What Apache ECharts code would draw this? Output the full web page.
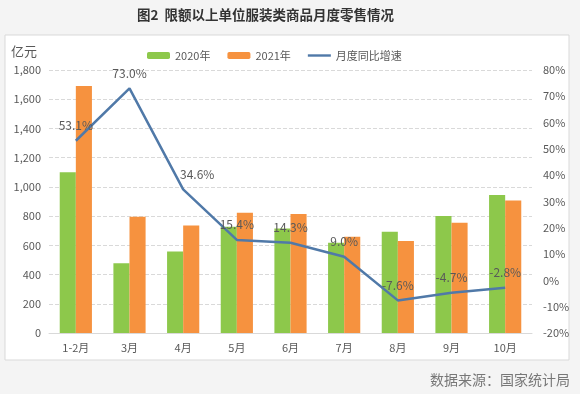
<!DOCTYPE html>
<html><head><meta charset="utf-8">
<script src="https://cdn.jsdelivr.net/npm/echarts@6/dist/echarts.min.js"></script>
<style>html,body{margin:0;padding:0;background:#f4f4f4;}#c{width:580px;height:394px;}</style>
</head><body><div id="c"></div>
<script>
const categories = ['1-2月','3月','4月','5月','6月','7月','8月','9月','10月'];
const sales2020 = [1100, 477, 557, 727, 716, 618, 693, 801, 945];
const sales2021 = [1690, 796, 735, 823, 814, 659, 630, 755, 906];
const growth = [53.1, 73.0, 34.6, 15.4, 14.3, 9.0, -7.6, -4.7, -2.8];
const titleText = '图2  限额以上单位服装类商品月度零售情况';
const sourceText = '数据来源：国家统计局';

const FONT = '"Noto Sans CJK SC", "Noto Sans", sans-serif';
const chart = echarts.init(document.getElementById('c'), null, {renderer:'canvas'});
const lineData = growth.map((v, i) => i === 2 ? {value: v, label: {offset: [14, 0]}} : v);
chart.setOption({
  backgroundColor: '#f4f4f4',
  textStyle: {fontFamily: FONT},
  title: {text: titleText, left: 132, top: 3,
    textStyle: {fontSize: 13.5, fontWeight: 'bold', color: '#333', fontFamily: FONT}},
  graphic: [
    {type: 'rect', shape: {x: 5, y: 35, width: 564, height: 325}, z: -10,
      style: {fill: '#ffffff', stroke: '#d9d9d9', lineWidth: 1}},
    {type: 'text', right: 10, top: 373, z: 10,
      style: {text: sourceText, fill: '#777', font: '14px ' + FONT}}
  ],
  legend: {left: 142, top: 45, itemWidth: 23, itemHeight: 7, itemGap: 17,
    textStyle: {fontSize: 11, color: '#595959', fontFamily: FONT},
    data: [{name: '2020年'}, {name: '2021年'},
      {name: '月度同比增速', icon: 'path://M0,0 L23,0 L23,2.4 L0,2.4 Z', itemStyle: {color: '#5079a8'}}]},
  grid: {left: 49, right: 48, top: 70, bottom: 61},
  xAxis: {type: 'category', data: categories,
    axisLine: {lineStyle: {color: '#d9d9d9'}}, axisTick: {show: false},
    axisLabel: {color: '#595959', fontSize: 11, margin: 9}},
  yAxis: [
    {type: 'value', min: 0, max: 1800, interval: 200, name: '亿元',
      nameLocation: 'end', nameGap: 12,
      nameTextStyle: {fontSize: 13, color: '#595959', align: 'right', padding: [0, 12, 0, 0]},
      axisLabel: {color: '#595959', fontSize: 11, margin: 8,
        formatter: v => v.toString().replace(/\B(?=(\d{3})+(?!\d))/g, ',')},
      splitLine: {lineStyle: {color: '#d9d9d9', type: 'dashed'}},
      axisLine: {show: false}, axisTick: {show: false}},
    {type: 'value', min: -20, max: 80, interval: 10,
      axisLabel: {color: '#595959', fontSize: 11, margin: 11, formatter: '{value}%'},
      splitLine: {show: false}, axisLine: {show: false}, axisTick: {show: false}}
  ],
  series: [
    {name: '2020年', type: 'bar', data: sales2020, barGap: '0%', barCategoryGap: '40%',
      itemStyle: {color: '#8dc84b'}},
    {name: '2021年', type: 'bar', data: sales2021, itemStyle: {color: '#f6923f'}},
    {name: '月度同比增速', type: 'line', yAxisIndex: 1, data: lineData,
      symbol: 'circle', symbolSize: 0.1, showSymbol: true,
      lineStyle: {color: '#5079a8', width: 2.5}, itemStyle: {color: '#5079a8'},
      label: {show: true, position: 'top', distance: 9, color: '#595959', fontSize: 12,
        formatter: p => Number(p.value).toFixed(1) + '%'}, z: 5}
  ]
});
</script></body></html>
